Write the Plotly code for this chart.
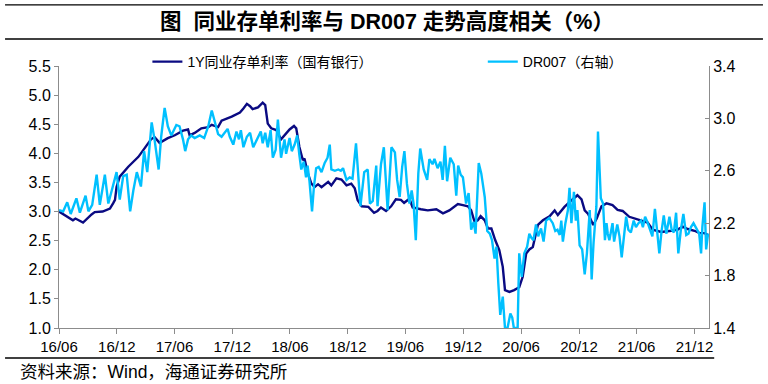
import plotly.graph_objects as go

# 1Y 同业存单利率（国有银行）, left axis, %
ncd_dates = [
    "2016-06-01","2016-07-15","2016-07-23","2016-08-16","2016-09-12","2016-09-22","2016-10-17",
    "2016-11-09","2016-11-19","2016-11-25","2016-11-30","2016-12-10","2017-01-06","2017-02-07",
    "2017-03-19","2017-03-30","2017-04-15","2017-05-11","2017-06-02","2017-06-28","2017-07-14",
    "2017-07-19","2017-08-04","2017-08-25","2017-09-16","2017-09-27","2017-10-17","2017-10-28",
    "2017-11-29","2017-12-25","2018-01-05","2018-01-16","2018-01-26","2018-02-03","2018-02-20",
    "2018-03-07","2018-03-15","2018-03-23","2018-04-03","2018-04-19","2018-05-04","2018-05-15",
    "2018-05-31","2018-06-14","2018-06-21","2018-07-01","2018-07-12","2018-07-17","2018-07-28",
    "2018-08-08","2018-08-18","2018-08-29","2018-09-09","2018-09-30","2018-10-10","2018-10-26",
    "2018-11-11","2018-11-27","2018-12-12","2018-12-23","2019-01-01","2019-01-14","2019-02-04",
    "2019-02-22","2019-03-05","2019-03-16","2019-04-01","2019-04-17","2019-05-02","2019-05-18",
    "2019-05-28","2019-06-14","2019-06-24","2019-07-20","2019-08-11","2019-09-07","2019-09-28",
    "2019-10-18","2019-11-14","2019-11-30","2019-12-16","2019-12-26","2020-01-06","2020-01-16",
    "2020-01-25","2020-02-07","2020-02-17","2020-02-28","2020-03-11","2020-03-24","2020-04-04",
    "2020-04-11","2020-04-25","2020-05-10","2020-05-26","2020-06-06","2020-06-17","2020-06-27",
    "2020-07-08","2020-07-24","2020-08-09","2020-08-30","2020-09-15","2020-09-25","2020-10-16",
    "2020-11-07","2020-11-26","2020-12-09","2020-12-19","2020-12-30","2021-01-15","2021-01-26",
    "2021-02-10","2021-02-26","2021-03-17","2021-04-02","2021-04-18","2021-05-09","2021-05-25",
    "2021-06-15","2021-07-06","2021-07-22","2021-08-18","2021-09-19","2021-10-09","2021-10-25",
    "2021-11-10","2021-12-01","2021-12-17","2022-01-02","2022-01-15",
]
ncd_values = [
    3.00, 2.85, 2.88, 2.81, 2.95, 2.99, 3.00,
    3.05, 3.14, 3.20, 3.42, 3.60, 3.77, 3.94,
    4.24, 4.28, 4.18, 4.26, 4.31, 4.39, 4.41,
    4.31, 4.35, 4.43, 4.45, 4.49, 4.45, 4.56,
    4.63, 4.70, 4.77, 4.85, 4.81, 4.76, 4.79,
    4.87, 4.83, 4.51, 4.43, 4.40, 4.24, 4.31,
    4.41, 4.47, 4.43, 4.11, 3.88, 3.91, 3.65,
    3.48, 3.42, 3.47, 3.42, 3.51, 3.45, 3.57,
    3.55, 3.45, 3.48, 3.40, 3.20, 3.09, 3.08,
    2.98, 3.01, 3.07, 3.01, 3.09, 3.21, 3.20,
    3.15, 3.22, 3.07, 3.04, 3.02, 3.04, 2.97,
    3.02, 3.13, 3.11, 3.09, 3.02, 2.82, 2.85,
    2.92, 2.85, 2.71, 2.71, 2.51, 2.34, 2.05,
    1.65, 1.62, 1.65, 1.70, 1.88, 2.28, 2.35,
    2.39, 2.77, 2.85, 2.92, 3.02, 2.94, 3.08,
    3.19, 3.28, 3.21, 3.02, 2.96, 2.77, 2.88,
    3.09, 3.14, 3.11, 3.03, 3.01, 2.91, 2.88,
    2.85, 2.81, 2.69, 2.65, 2.67, 2.69, 2.74,
    2.70, 2.67, 2.63, 2.63, 2.59,
]

# DR007（右轴）, %
dr_dates = [
    "2016-06-01","2016-06-14","2016-06-27","2016-07-08","2016-07-26","2016-08-06","2016-08-24",
    "2016-09-02","2016-09-14","2016-09-28","2016-10-08","2016-10-24","2016-11-04","2016-11-19",
    "2016-11-30","2016-12-10","2016-12-21","2017-01-01","2017-01-12","2017-01-22","2017-02-02",
    "2017-02-15","2017-02-25","2017-03-07","2017-03-21","2017-03-30","2017-04-12","2017-04-20",
    "2017-05-01","2017-05-11","2017-05-22","2017-06-07","2017-06-17","2017-06-28","2017-07-05",
    "2017-07-14","2017-07-24","2017-08-04","2017-08-20","2017-09-03","2017-09-16","2017-09-27",
    "2017-10-07","2017-10-17","2017-10-28","2017-11-16","2017-11-23","2017-12-04","2017-12-14",
    "2017-12-22","2017-12-28","2018-01-05","2018-01-16","2018-01-26","2018-02-05","2018-02-16",
    "2018-03-01","2018-03-07","2018-03-15","2018-03-23","2018-04-01","2018-04-08","2018-04-17",
    "2018-04-24","2018-05-04","2018-05-15","2018-05-20","2018-05-31","2018-06-07","2018-06-16",
    "2018-06-24","2018-07-01","2018-07-07","2018-07-15","2018-07-22","2018-07-27","2018-08-02",
    "2018-08-10","2018-08-16","2018-08-23","2018-08-31","2018-09-09","2018-09-19","2018-09-28",
    "2018-10-05","2018-10-10","2018-10-21","2018-11-01","2018-11-09","2018-11-16","2018-11-27",
    "2018-12-07","2018-12-16","2018-12-27","2019-01-10","2019-01-22","2019-02-02","2019-02-09",
    "2019-02-18","2019-03-01","2019-03-05","2019-03-16","2019-03-25","2019-04-01","2019-04-06",
    "2019-04-18","2019-04-29","2019-05-06","2019-05-14","2019-05-22","2019-05-29","2019-06-06",
    "2019-06-14","2019-06-21","2019-06-27","2019-07-04","2019-07-12","2019-07-18","2019-07-29",
    "2019-08-09","2019-08-16","2019-08-26","2019-09-01","2019-09-11","2019-09-20","2019-09-27",
    "2019-10-04","2019-10-11","2019-10-21","2019-11-01","2019-11-09","2019-11-15","2019-11-23",
    "2019-11-30","2019-12-10","2019-12-18","2019-12-26","2020-01-03","2020-01-09","2020-01-19",
    "2020-01-27","2020-02-07","2020-02-15","2020-02-23","2020-03-01","2020-03-09","2020-03-15",
    "2020-03-21","2020-03-27","2020-04-04","2020-04-11","2020-04-19","2020-04-28","2020-05-04",
    "2020-05-09","2020-05-21","2020-05-26","2020-06-03","2020-06-11","2020-06-20","2020-06-27",
    "2020-07-03","2020-07-10","2020-07-18","2020-07-25","2020-08-03","2020-08-11","2020-08-19",
    "2020-08-29","2020-09-09","2020-09-17","2020-09-24","2020-10-01","2020-10-06","2020-10-11",
    "2020-10-19","2020-10-27","2020-11-01","2020-11-07","2020-11-15","2020-11-21","2020-11-26",
    "2020-12-03","2020-12-11","2020-12-19","2020-12-26","2021-01-04","2021-01-10","2021-01-16",
    "2021-01-25","2021-01-30","2021-02-08","2021-02-15","2021-02-21","2021-02-26","2021-03-02",
    "2021-03-07","2021-03-17","2021-03-22","2021-04-01","2021-04-08","2021-04-15","2021-04-22",
    "2021-04-29","2021-05-06","2021-05-14","2021-05-23","2021-05-30","2021-06-07","2021-06-15",
    "2021-06-21","2021-06-28","2021-07-05","2021-07-14","2021-07-21","2021-07-29","2021-08-05",
    "2021-08-12","2021-08-19","2021-08-26","2021-09-03","2021-09-13","2021-09-20","2021-09-27",
    "2021-10-04","2021-10-11","2021-10-19","2021-10-27","2021-11-05","2021-11-12","2021-11-20",
    "2021-11-28","2021-12-07","2021-12-16","2021-12-22","2021-12-26","2022-01-02","2022-01-07",
    "2022-01-12","2022-01-15",
]
dr_values = [
    2.30, 2.29, 2.36, 2.27, 2.39, 2.28, 2.41,
    2.29, 2.34, 2.57, 2.34, 2.57, 2.35, 2.50,
    2.59, 2.38, 2.56, 2.57, 2.29, 2.45, 2.59,
    2.48, 2.75, 2.59, 2.97, 2.84, 2.61, 2.86,
    3.08, 2.94, 2.87, 2.95, 2.94, 2.84, 2.75,
    2.84, 2.87, 2.85, 2.87, 2.85, 2.94, 3.06,
    2.96, 2.88, 2.86, 2.92, 2.86, 2.80, 2.90,
    2.84, 2.91, 2.78, 2.86, 2.89, 2.78, 2.84,
    2.90, 2.81, 2.89, 2.78, 2.91, 2.70, 2.76,
    2.99, 2.70, 2.84, 2.73, 2.85, 2.75, 2.80,
    2.87, 2.72, 2.61, 2.67, 2.55, 2.64, 2.52,
    2.29, 2.48, 2.62, 2.63, 2.59, 2.66, 2.70,
    2.80, 2.61, 2.60, 2.61, 2.60, 2.62, 2.53,
    2.55, 2.54, 2.81, 2.33, 2.59, 2.61, 2.35,
    2.37, 2.64, 2.33, 2.65, 2.78, 2.50, 2.30,
    2.78, 2.74, 2.53, 2.40, 2.63, 2.75, 2.50,
    2.35, 2.45, 2.35, 2.07, 2.58, 2.77, 2.61,
    2.53, 2.69, 2.65, 2.69, 2.62, 2.67, 2.53,
    2.79, 2.52, 2.70, 2.65, 2.41, 2.64, 2.57,
    2.55, 2.35, 2.43, 2.15, 2.21, 2.12, 2.66,
    2.58, 2.40, 2.14, 2.12, 2.07, 1.93, 2.02,
    1.74, 1.50, 1.64, 1.40, 1.40, 1.51, 1.48,
    1.40, 1.40, 1.97, 1.79, 1.97, 2.02, 2.12,
    2.09, 2.07, 2.19, 2.10, 2.16, 2.06, 2.22,
    2.24, 2.20, 2.14, 2.15, 2.11, 2.22, 2.06,
    2.20, 2.30, 2.47, 2.20, 2.44, 2.22, 2.30,
    2.03, 2.00, 1.81, 1.97, 2.30, 1.77, 2.05,
    2.33, 2.90, 2.39, 2.35, 2.07, 2.20, 2.12,
    2.07, 2.20, 2.06, 2.19, 2.10, 1.94, 2.10,
    2.25, 2.15, 2.13, 2.22, 2.17, 2.20, 2.22,
    2.17, 2.25, 2.21, 2.15, 2.10, 2.31, 2.12,
    1.97, 2.14, 2.26, 2.12, 2.25, 2.15, 2.13,
    2.28, 1.97, 2.15, 2.27, 2.11, 2.12, 2.17,
    2.20, 2.16, 2.12, 1.97, 2.17, 2.36, 2.00,
    2.10, 2.12,
]

tick_dates = ["2016-06-01","2016-12-01","2017-06-01","2017-12-01","2018-06-01","2018-12-01",
              "2019-06-01","2019-12-01","2020-06-01","2020-12-01","2021-06-01","2021-12-01"]
tick_labels = ["16/06","16/12","17/06","17/12","18/06","18/12",
               "19/06","19/12","20/06","20/12","21/06","21/12"]

NAVY = "#0A0A82"
SKY = "#00C0FF"
AX = "#8C8C8C"
FONT = "Liberation Sans, Arial, Noto Sans CJK SC, sans-serif"
CJK = "Liberation Sans, Noto Sans CJK SC, sans-serif"

fig = go.Figure()
fig.add_trace(go.Scatter(x=ncd_dates, y=ncd_values, mode="lines", name="1Y同业存单利率（国有银行）",
                         line=dict(color=NAVY, width=2.4), yaxis="y", legend="legend"))
fig.add_trace(go.Scatter(x=dr_dates, y=dr_values, mode="lines", name="DR007（右轴）",
                         line=dict(color=SKY, width=2.4), yaxis="y2", legend="legend2"))

fig.update_layout(
    width=768, height=384,
    margin=dict(l=59, r=59, t=66, b=56, autoexpand=False),
    paper_bgcolor="white", plot_bgcolor="white",
    font=dict(family=FONT, size=15, color="#000000"),
    showlegend=True,
    legend=dict(x=0.136, y=1.015, xanchor="left", yanchor="middle", orientation="h",
                font=dict(family=CJK, size=14, color="#000"), bgcolor="rgba(0,0,0,0)",
                itemwidth=30),
    legend2=dict(x=0.652, y=1.015, xanchor="left", yanchor="middle", orientation="h",
                 font=dict(family=CJK, size=14, color="#000"), bgcolor="rgba(0,0,0,0)",
                 itemwidth=30),
    xaxis=dict(type="date", range=["2016-06-01", "2022-01-16"],
               tickvals=tick_dates, ticktext=tick_labels,
               showgrid=False, zeroline=False, showline=True, linecolor=AX, linewidth=1,
               ticks="outside", ticklen=5, tickcolor=AX,
               tickfont=dict(family="Liberation Sans, Arial", size=15)),
    yaxis=dict(range=[1.0, 5.5], dtick=0.5, tick0=1.0, tickformat=".1f",
               showgrid=False, zeroline=False, showline=True, linecolor=AX, linewidth=1,
               ticks="outside", ticklen=4, tickcolor=AX, tickfont=dict(size=16)),
    yaxis2=dict(range=[1.4, 3.4], dtick=0.4, tick0=1.4, tickformat=".1f", overlaying="y", side="right",
                showgrid=False, zeroline=False, showline=True, linecolor=AX, linewidth=1,
                ticks="inside", ticklen=4, tickcolor=AX, tickfont=dict(size=16)),
)

# header / footer rules and texts
for y_rule, x_end in [(1.233, 1.083), (1.103, 1.083), (-0.1145, 1.008)]:
    fig.add_shape(type="line", xref="paper", yref="paper", x0=-0.083, x1=x_end, y0=y_rule, y1=y_rule,
                  layer="above", line=dict(color="#000000", width=1.3))
fig.add_annotation(xref="paper", yref="paper", x=0.505, y=1.168, xanchor="center", yanchor="middle",
                   text="<b>图  同业存单利率与 DR007 走势高度相关（%）</b>", showarrow=False,
                   font=dict(family=CJK, size=21.5, color="#000"))
fig.add_annotation(xref="paper", yref="paper", x=-0.063, y=-0.167, xanchor="left", yanchor="middle",
                   text="资料来源：Wind，海通证券研究所", showarrow=False,
                   font=dict(family=CJK, size=17.5, color="#000"))

fig.write_html("out.html", config={"displayModeBar": False},
               post_script="document.body.style.margin='0';")
